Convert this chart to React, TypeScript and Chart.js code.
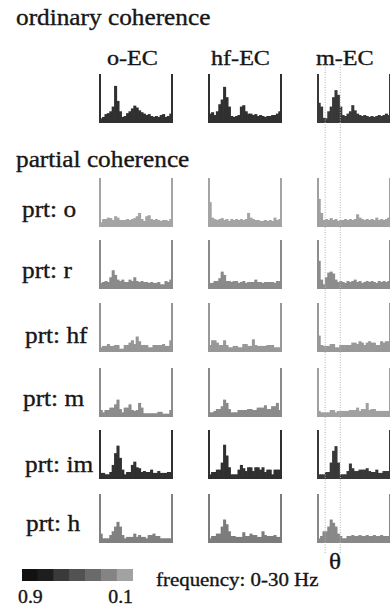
import React, { useEffect, useRef } from 'react';
import { Chart, registerables } from 'chart.js';

Chart.register(...registerables);

// ---------- data ----------
const FREQ_HZ = [0, 1, 2, 3, 4, 5, 6, 7, 8, 9, 10, 11, 12, 13, 14, 15, 16, 17, 18, 19, 20, 21, 22, 23, 24, 25, 26, 27, 28, 29];
const COLUMN_TITLES = ['o-EC', 'hf-EC', 'm-EC'];
const ROW_LABELS = ['prt: o', 'prt: r', 'prt: hf', 'prt: m', 'prt: im', 'prt: h'];
const THETA_BAND = [3, 9.3];
const COLORBAR_COLORS = ['#121212', '#1e1e1e', '#3a3a3a', '#525252', '#6a6a6a', '#848484', '#a2a2a2'];
const COLORBAR_LEVELS = ['0.9', '0.77', '0.63', '0.5', '0.37', '0.23', '0.1'];
const COLORBAR_FILL = [1, 1, 1, 1, 1, 1, 1];

// ordinary coherence
const ORD_O = [0.05, 0.08, 0.14, 0.16, 0.2, 0.3, 0.74, 0.42, 0.2, 0.08, 0.1, 0.16, 0.2, 0.26, 0.32, 0.28, 0.22, 0.18, 0.15, 0.12, 0.14, 0.1, 0.08, 0.1, 0.08, 0.12, 0.14, 0.08, 0.1, 0.15];
const ORD_HF = [0.15, 0.18, 0.12, 0.2, 0.35, 0.45, 0.72, 0.5, 0.3, 0.1, 0.08, 0.1, 0.12, 0.3, 0.33, 0.2, 0.15, 0.15, 0.12, 0.14, 0.1, 0.12, 0.1, 0.08, 0.1, 0.1, 0.12, 0.12, 0.15, 0.2];
const ORD_M = [0.38, 0.3, 0.06, 0.05, 0.2, 0.3, 0.5, 0.65, 0.55, 0.3, 0.12, 0.1, 0.15, 0.2, 0.33, 0.22, 0.15, 0.12, 0.1, 0.12, 0.1, 0.08, 0.1, 0.08, 0.1, 0.12, 0.1, 0.12, 0.15, 0.12];
// partial coherence, partialized on o
const PO_O = [0.05, 0.12, 0.12, 0.15, 0.14, 0.1, 0.18, 0.15, 0.1, 0.1, 0.1, 0.12, 0.1, 0.12, 0.14, 0.18, 0.25, 0.12, 0.08, 0.18, 0.2, 0.12, 0.1, 0.12, 0.1, 0.08, 0.1, 0.1, 0.08, 0.12];
const PO_HF = [0.48, 0.15, 0.12, 0.1, 0.12, 0.14, 0.1, 0.12, 0.08, 0.12, 0.1, 0.12, 0.1, 0.12, 0.1, 0.12, 0.25, 0.15, 0.12, 0.1, 0.1, 0.08, 0.08, 0.1, 0.08, 0.1, 0.08, 0.15, 0.1, 0.12];
const PO_M = [0.55, 0.25, 0.1, 0.12, 0.1, 0.14, 0.1, 0.12, 0.08, 0.1, 0.1, 0.12, 0.1, 0.12, 0.1, 0.12, 0.22, 0.15, 0.12, 0.1, 0.12, 0.1, 0.12, 0.1, 0.15, 0.1, 0.12, 0.1, 0.12, 0.15];
// partialized on r
const PR_O = [0.08, 0.1, 0.12, 0.1, 0.2, 0.35, 0.25, 0.15, 0.12, 0.15, 0.1, 0.1, 0.15, 0.12, 0.2, 0.12, 0.1, 0.12, 0.1, 0.1, 0.08, 0.1, 0.08, 0.08, 0.1, 0.05, 0.05, 0.12, 0.1, 0.15];
const PR_HF = [0.08, 0.08, 0.12, 0.12, 0.18, 0.32, 0.25, 0.12, 0.12, 0.1, 0.12, 0.12, 0.08, 0.1, 0.12, 0.08, 0.1, 0.1, 0.1, 0.15, 0.1, 0.1, 0.08, 0.1, 0.1, 0.1, 0.1, 0.08, 0.12, 0.12];
const PR_M = [0.55, 0.15, 0.05, 0.2, 0.3, 0.32, 0.28, 0.15, 0.1, 0.12, 0.1, 0.08, 0.12, 0.1, 0.12, 0.15, 0.1, 0.12, 0.08, 0.1, 0.12, 0.1, 0.12, 0.1, 0.08, 0.12, 0.1, 0.12, 0.1, 0.12];
// partialized on hf
const PHF_O = [0.05, 0.08, 0.08, 0.12, 0.08, 0.08, 0.1, 0.1, 0.02, 0.02, 0.1, 0.1, 0.15, 0.2, 0.12, 0.28, 0.18, 0.1, 0.1, 0.1, 0.05, 0.05, 0.1, 0.1, 0.1, 0.1, 0.12, 0.08, 0.08, 0.2];
const PHF_HF = [0.1, 0.2, 0.2, 0.15, 0.1, 0.1, 0.2, 0.1, 0.05, 0.05, 0.08, 0.08, 0.05, 0.05, 0.12, 0.12, 0.08, 0.08, 0.22, 0.1, 0.08, 0.08, 0.08, 0.08, 0.1, 0.1, 0.1, 0.05, 0.05, 0.05];
const PHF_M = [0.3, 0.1, 0.08, 0.08, 0.08, 0.12, 0.12, 0.05, 0.05, 0.1, 0.1, 0.1, 0.1, 0.1, 0.15, 0.15, 0.12, 0.18, 0.15, 0.1, 0.15, 0.18, 0.15, 0.15, 0.1, 0.1, 0.18, 0.15, 0.18, 0.18];
// partialized on m
const PM_O = [0.1, 0.05, 0.1, 0.1, 0.15, 0.15, 0.22, 0.32, 0.12, 0.05, 0.15, 0.15, 0.22, 0.1, 0.08, 0.1, 0.25, 0.15, 0.03, 0.03, 0.03, 0.03, 0.03, 0.03, 0.06, 0.06, 0.02, 0.02, 0.02, 0.1];
const PM_HF = [0.05, 0.05, 0.08, 0.12, 0.12, 0.18, 0.32, 0.25, 0.12, 0.05, 0.05, 0.05, 0.1, 0.1, 0.1, 0.1, 0.12, 0.12, 0.1, 0.1, 0.15, 0.15, 0.15, 0.2, 0.12, 0.12, 0.18, 0.18, 0.25, 0.1];
const PM_M = [0.08, 0.05, 0.05, 0.05, 0.05, 0.1, 0.1, 0.05, 0.08, 0.08, 0.08, 0.08, 0.08, 0.1, 0.1, 0.1, 0.15, 0.08, 0.12, 0.12, 0.25, 0.1, 0.12, 0.12, 0.08, 0.08, 0.08, 0.08, 0.08, 0.08];
// partialized on im
const PIM_O = [0.08, 0.08, 0.05, 0.05, 0.1, 0.25, 0.5, 0.66, 0.4, 0.15, 0.05, 0.1, 0.1, 0.25, 0.32, 0.2, 0.18, 0.1, 0.12, 0.1, 0.1, 0.15, 0.08, 0.08, 0.12, 0.08, 0.08, 0.08, 0.1, 0.1];
const PIM_HF = [0.05, 0.1, 0.1, 0.15, 0.15, 0.3, 0.68, 0.45, 0.2, 0.05, 0.05, 0.05, 0.15, 0.25, 0.18, 0.12, 0.2, 0.2, 0.12, 0.2, 0.2, 0.15, 0.2, 0.1, 0.15, 0.15, 0.05, 0.15, 0.15, 0.15];
const PIM_M = [0.05, 0.05, 0.05, 0.1, 0.1, 0.3, 0.55, 0.65, 0.3, 0.05, 0.05, 0.05, 0.12, 0.28, 0.18, 0.12, 0.12, 0.15, 0.15, 0.15, 0.18, 0.12, 0.1, 0.1, 0.15, 0.08, 0.08, 0.12, 0.12, 0.12];
// partialized on h
const PH_O = [0.15, 0.05, 0.05, 0.05, 0.12, 0.2, 0.3, 0.4, 0.3, 0.12, 0.05, 0.08, 0.08, 0.08, 0.15, 0.08, 0.12, 0.08, 0.08, 0.05, 0.12, 0.12, 0.15, 0.1, 0.1, 0.05, 0.05, 0.05, 0.05, 0.05];
const PH_HF = [0.05, 0.1, 0.1, 0.15, 0.15, 0.3, 0.45, 0.35, 0.2, 0.1, 0.1, 0.08, 0.08, 0.08, 0.18, 0.1, 0.1, 0.15, 0.12, 0.12, 0.08, 0.08, 0.2, 0.12, 0.1, 0.1, 0.1, 0.12, 0.08, 0.08];
const PH_M = [0.05, 0.1, 0.2, 0.2, 0.3, 0.45, 0.38, 0.3, 0.15, 0.1, 0.05, 0.05, 0.1, 0.1, 0.12, 0.1, 0.1, 0.12, 0.1, 0.1, 0.12, 0.1, 0.1, 0.12, 0.1, 0.1, 0.12, 0.1, 0.1, 0.1];

const PANEL_DATA = [
  [ORD_O, ORD_HF, ORD_M],
  [PO_O, PO_HF, PO_M],
  [PR_O, PR_HF, PR_M],
  [PHF_O, PHF_HF, PHF_M],
  [PM_O, PM_HF, PM_M],
  [PIM_O, PIM_HF, PIM_M],
  [PH_O, PH_HF, PH_M],
];

// grey level of each panel (coherence magnitude)
const PANEL_COLORS = [
  ['#303030', '#303030', '#383838'],
  ['#a4a4a4', '#a4a4a4', '#a0a0a0'],
  ['#8a8a8a', '#8a8a8a', '#8c8c8c'],
  ['#959595', '#989898', '#989898'],
  ['#8c8c8c', '#8a8a8a', '#a0a0a0'],
  ['#303030', '#303030', '#383838'],
  ['#808080', '#7c7c7c', '#888888'],
];

// ---------- layout ----------
const COL_LEFT = [100, 209, 318];
const ROW_TOP = [74, 178, 240, 303, 368, 430, 494];
const PANEL_W = 72;
const PANEL_H = 47;
const PAD = 2;
const SERIF = '"Liberation Serif", "Times New Roman", Times, serif';
const TEXT_COLOR = '#161616';

function Panel({ values, color, left, top }: { values: number[]; color: string; left: number; top: number }) {
  const ref = useRef<HTMLCanvasElement>(null);
  useEffect(() => {
    const axisBase = {
      display: true,
      z: 1,
      grid: { display: false, drawTicks: false },
      ticks: { display: false },
    };
    const chart = new Chart(ref.current as HTMLCanvasElement, {
      type: 'bar',
      data: {
        labels: FREQ_HZ,
        datasets: [
          {
            data: values,
            backgroundColor: color,
            borderWidth: 0,
            barPercentage: 1,
            categoryPercentage: 1,
          },
        ],
      },
      options: {
        animation: false,
        responsive: false,
        devicePixelRatio: 1,
        events: [],
        layout: { padding: { left: PAD, right: PAD, top: 0, bottom: PAD } },
        plugins: { legend: { display: false }, tooltip: { enabled: false } },
        scales: {
          x: { ...axisBase, border: { display: true, color, width: 3 } },
          y: { ...axisBase, min: 0, max: 1, border: { display: true, color, width: 2 } },
          yr: { ...axisBase, position: 'right', min: 0, max: 1, border: { display: true, color, width: 2 } },
        },
      } as any,
    });
    return () => chart.destroy();
  }, [values, color]);
  return (
    <canvas
      ref={ref}
      width={PANEL_W + 2 * PAD}
      height={PANEL_H + PAD}
      style={{ position: 'absolute', left: left - PAD, top, width: PANEL_W + 2 * PAD, height: PANEL_H + PAD }}
    />
  );
}

function ThetaOverlay({ left, top, height }: { left: number; top: number; height: number }) {
  const ref = useRef<HTMLCanvasElement>(null);
  useEffect(() => {
    const chart = new Chart(ref.current as HTMLCanvasElement, {
      type: 'scatter',
      data: {
        datasets: THETA_BAND.map((f) => ({
          data: [
            { x: f, y: 0 },
            { x: f, y: 1 },
          ],
          showLine: true,
          borderColor: '#b2b2b2',
          borderWidth: 1,
          borderDash: [1, 1.5],
          pointRadius: 0,
        })),
      },
      options: {
        animation: false,
        responsive: false,
        devicePixelRatio: 1,
        events: [],
        layout: { padding: { left: PAD, right: PAD, top: 0, bottom: 0 } },
        plugins: { legend: { display: false }, tooltip: { enabled: false } },
        scales: {
          x: { type: 'linear', display: false, min: 0, max: FREQ_HZ.length },
          y: { display: false, min: 0, max: 1 },
        },
      } as any,
    });
    return () => chart.destroy();
  }, []);
  return (
    <canvas
      ref={ref}
      width={PANEL_W + 2 * PAD}
      height={height}
      style={{ position: 'absolute', left: left - PAD, top, width: PANEL_W + 2 * PAD, height, pointerEvents: 'none' }}
    />
  );
}

function ColorBar({ left, top, width, height }: { left: number; top: number; width: number; height: number }) {
  const ref = useRef<HTMLCanvasElement>(null);
  useEffect(() => {
    const chart = new Chart(ref.current as HTMLCanvasElement, {
      type: 'bar',
      data: {
        labels: COLORBAR_LEVELS,
        datasets: [
          {
            data: COLORBAR_FILL,
            backgroundColor: COLORBAR_COLORS,
            borderWidth: 0,
            barPercentage: 1,
            categoryPercentage: 1,
          },
        ],
      },
      options: {
        animation: false,
        responsive: false,
        devicePixelRatio: 1,
        events: [],
        layout: { padding: 0 },
        plugins: { legend: { display: false }, tooltip: { enabled: false } },
        scales: {
          x: { display: false },
          y: { display: false, min: 0, max: 1 },
        },
      } as any,
    });
    return () => chart.destroy();
  }, []);
  return <canvas ref={ref} width={width} height={height} style={{ position: 'absolute', left, top, width, height }} />;
}

function Label({ text, x, y, size, anchor = 'start', sx = 1.1 }: { text: string; x: number; y: number; size: number; anchor?: string; sx?: number }) {
  return (
    <text
      transform={`translate(${x},${y}) scale(${sx},1)`}
      style={{ fontFamily: SERIF, fontSize: size }}
      fill={TEXT_COLOR}
      stroke={TEXT_COLOR}
      strokeWidth={0.35}
      textAnchor={anchor as any}
    >
      {text}
    </text>
  );
}

const HEADER_X = [107, 211, 316];
const ROW_LABEL_X = [22, 22, 25, 23, 25, 26];
const ROW_LABEL_Y = [217, 278, 343, 406, 472, 531];

export default function App() {
  return (
    <div
      style={{
        position: 'absolute',
        left: 0,
        top: 0,
        width: 390,
        height: 606,
        overflow: 'hidden',
        background: '#ffffff',
      }}
    >
      <svg width={390} height={606} style={{ position: 'absolute', left: 0, top: 0 }}>
        <Label text="ordinary coherence" x={16} y={25} size={23} />
        {COLUMN_TITLES.map((t, i) => (
          <Label key={t} text={t} x={HEADER_X[i]} y={65} size={21} sx={1.15} />
        ))}
        <Label text="partial coherence" x={16} y={167} size={23} />
        {ROW_LABELS.map((t, i) => (
          <Label key={t} text={t} x={ROW_LABEL_X[i]} y={ROW_LABEL_Y[i]} size={23} />
        ))}
        <Label text="θ" x={335} y={569} size={24} anchor="middle" sx={1.05} />
        <Label text="0.9" x={18} y={603} size={18} />
        <Label text="0.1" x={133} y={603} size={18} anchor="end" />
        <Label text="frequency: 0-30 Hz" x={156} y={586} size={19} />
      </svg>
      {PANEL_DATA.map((row, r) =>
        row.map((vals, c) => (
          <Panel key={`${r}-${c}`} values={vals} color={PANEL_COLORS[r][c]} left={COL_LEFT[c]} top={ROW_TOP[r]} />
        ))
      )}
      <ThetaOverlay left={COL_LEFT[2]} top={64} height={489} />
      <ColorBar left={22} top={569} width={111} height={12} />
    </div>
  );
}
